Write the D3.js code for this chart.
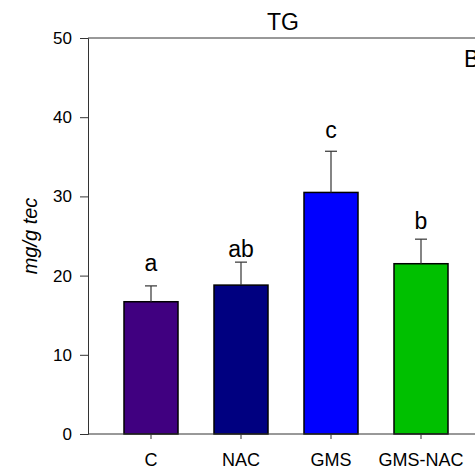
<!doctype html>
<html>
<head>
<meta charset="utf-8">
<title>TG</title>
<script src="https://cdn.jsdelivr.net/npm/d3@7"></script>
<style>
  body { margin: 0; background: #fff; }
  svg { display: block; font-family: "Liberation Sans", Arial, sans-serif; }
</style>
</head>
<body>
<script>
// data
const groups = ["C", "NAC", "GMS", "GMS-NAC"];
const means = [16.7, 18.8, 30.5, 21.5];
const sds = [2.0, 2.9, 5.2, 3.1];
const letters = ["a", "ab", "c", "b"];
const letterPos = [20.6, 22.3, 37.4, 25.9]; // where the letters sit, in y units
const barColors = ["#400080", "#000080", "#0000ff", "#00c000"];
const yTicks = [0, 10, 20, 30, 40, 50];

const w = 475, h = 470;
const mLeft = 88, mRight = 478, mTop = 38, mBottom = 434;

const svg = d3.select("body").append("svg")
  .attr("width", w)
  .attr("height", h);

const x = d3.scaleBand()
  .domain(groups)
  .range([106, 466])
  .paddingInner(0.4)
  .paddingOuter(0.2);

const y = d3.scaleLinear()
  .domain([0, 50])
  .range([mBottom, mTop]);

// bars
svg.selectAll("rect.bar")
  .data(groups)
  .enter()
  .append("rect")
  .attr("class", "bar")
  .attr("x", d => x(d))
  .attr("y", (d, i) => y(means[i]))
  .attr("width", x.bandwidth())
  .attr("height", (d, i) => y(0) - y(means[i]))
  .attr("fill", (d, i) => barColors[i])
  .attr("stroke", "#000")
  .attr("stroke-width", 1.5);

// error bars (upper only)
const eb = svg.selectAll("g.err")
  .data(groups)
  .enter()
  .append("g")
  .attr("class", "err")
  .attr("stroke", "#333")
  .attr("stroke-width", 1.2);

eb.append("line")
  .attr("x1", d => x(d) + x.bandwidth() / 2)
  .attr("x2", d => x(d) + x.bandwidth() / 2)
  .attr("y1", (d, i) => y(means[i]))
  .attr("y2", (d, i) => y(means[i] + sds[i]));

eb.append("line")
  .attr("x1", d => x(d) + x.bandwidth() / 2 - 6)
  .attr("x2", d => x(d) + x.bandwidth() / 2 + 6)
  .attr("y1", (d, i) => y(means[i] + sds[i]))
  .attr("y2", (d, i) => y(means[i] + sds[i]));

// significance letters
svg.selectAll("text.sig")
  .data(groups)
  .enter()
  .append("text")
  .attr("class", "sig")
  .attr("x", d => x(d) + x.bandwidth() / 2)
  .attr("y", (d, i) => y(letterPos[i]))
  .attr("text-anchor", "middle")
  .style("font-size", "23px")
  .text((d, i) => letters[i]);

// y axis
const yAxis = svg.append("g")
  .attr("transform", `translate(${mLeft},0)`)
  .call(d3.axisLeft(y).tickValues(yTicks).tickSize(8).tickPadding(8));
yAxis.select(".domain").attr("stroke", "#333");
yAxis.selectAll(".tick line").attr("stroke", "#333");
yAxis.selectAll("text").style("font-size", "17px").attr("fill", "#000");

// x axis
const xAxis = svg.append("g")
  .attr("transform", `translate(0,${mBottom})`)
  .call(d3.axisBottom(x).tickSize(5).tickPadding(14));
xAxis.select(".domain").attr("d", `M${mLeft},0H${mRight}`).attr("stroke", "#333");
xAxis.selectAll(".tick line").attr("stroke", "#333");
xAxis.selectAll("text").style("font-size", "18px").attr("fill", "#000");

// top frame line
svg.append("line")
  .attr("x1", mLeft).attr("x2", mRight)
  .attr("y1", mTop).attr("y2", mTop)
  .attr("stroke", "#333");

// title
svg.append("text")
  .attr("x", (mLeft + mRight) / 2)
  .attr("y", 30)
  .attr("text-anchor", "middle")
  .style("font-size", "23px")
  .text("TG");

// panel letter
svg.append("text")
  .attr("x", 464)
  .attr("y", 67)
  .style("font-size", "23px")
  .text("B");

// y label
svg.append("text")
  .attr("transform", `translate(37,${(mTop + mBottom) / 2}) rotate(-90)`)
  .attr("text-anchor", "middle")
  .style("font-size", "20px")
  .style("font-style", "italic")
  .text("mg/g tec");
</script>
</body>
</html>
